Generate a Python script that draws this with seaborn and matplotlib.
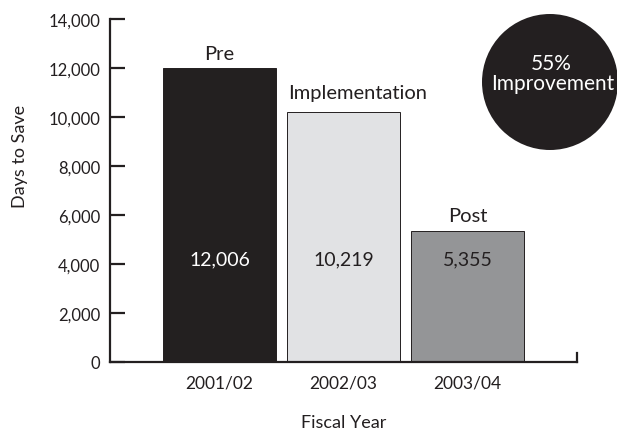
import matplotlib
matplotlib.use("Agg")
import matplotlib.pyplot as plt
import seaborn as sns
import pandas as pd
from matplotlib.patches import Circle

fiscal_years = ["2001/02", "2002/03", "2003/04"]
days_to_save = [12006, 10219, 5355]
phases = ["Pre", "Implementation", "Post"]
bar_colors = ["#231f20", "#e1e2e4", "#939598"]
value_text_colors = ["white", "#231f20", "#231f20"]
improvement_pct = "55%"
improvement_label = "Improvement"

sns.set_theme(style="white")
plt.rcParams["font.family"] = ["Lato", "DejaVu Sans"]
ink = "#231f20"

W, H = 617, 431
df = pd.DataFrame({"year": fiscal_years, "days": days_to_save})

fig = plt.figure(figsize=(W / 100, H / 100), dpi=100)
ax = fig.add_axes([110 / W, 1 - 363 / H, (577 - 110) / W, (363 - 20) / H])

sns.barplot(data=df, x="year", y="days", hue="year", palette=bar_colors,
            width=0.91, edgecolor=ink, linewidth=0.7, legend=False, ax=ax)

ax.set_xlim(-0.883, 2.883)
ax.set_ylim(0, 14000)
ax.set_yticks(range(0, 14001, 2000))
ax.set_yticklabels([f"{v:,}" for v in range(0, 14001, 2000)])

# phase names sit just above each bar, values inside near the base
phase_dx = [0.0, 0.11, 0.0]
phase_gap = [370, 570, 410]
for i, (val, phase) in enumerate(zip(days_to_save, phases)):
    ax.text(i, 4000, f"{val:,}", ha="center", va="baseline",
            fontsize=14, color=value_text_colors[i])
    ax.text(i + phase_dx[i], val + phase_gap[i], phase, ha="center",
            va="baseline", fontsize=14.5, color=ink)

ax.spines["top"].set_visible(False)
ax.spines["left"].set_bounds(0, 14000)
ax.spines["right"].set_bounds(0, 380)
for side in ["left", "bottom", "right"]:
    ax.spines[side].set_color(ink)
    ax.spines[side].set_linewidth(1.6)

ax.tick_params(axis="y", direction="in", length=11, width=1.6, color=ink,
               labelsize=12, labelcolor=ink, pad=7, left=True)
ax.tick_params(axis="x", length=0, labelsize=12.5, labelcolor=ink, pad=9)

ax.set_xlabel("")
ax.set_ylabel("")
fig.text(343.5 / W, 1 - 428 / H, "Fiscal Year", ha="center", va="baseline",
         fontsize=13, color=ink)
fig.text(20 / W, 1 - 156.5 / H, "Days to Save", ha="center", va="center",
         rotation=90, fontsize=13, color=ink)

circle = Circle((550, H - 83), 68, transform=None, facecolor=ink,
                edgecolor="none", clip_on=False)
fig.patches.append(circle)
fig.text(551.5 / W, 1 - 70 / H, improvement_pct, ha="center", va="baseline",
         fontsize=15, color="white")
fig.text(553 / W, 1 - 90 / H, improvement_label, ha="center", va="baseline",
         fontsize=15, color="white")

fig.savefig("out.png", dpi=100)
